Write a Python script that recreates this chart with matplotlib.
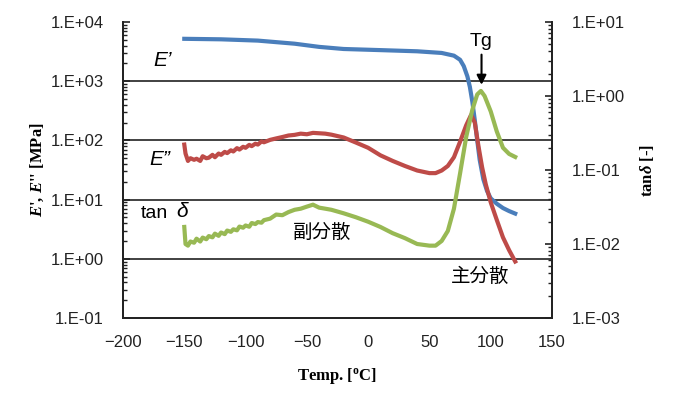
import numpy as np
import matplotlib.pyplot as plt
from matplotlib.ticker import LogLocator, FixedLocator, NullFormatter

# storage modulus E' [MPa]
temp_e1 = [-150, -120, -90, -60, -40, -20, 0, 20, 40, 60, 70, 75, 78, 81, 83, 85, 87,
           89, 91, 94, 97, 100, 105, 110, 115, 120]
e1 = [5200, 5100, 4850, 4300, 3800, 3500, 3400, 3300, 3200, 3000, 2700, 2300, 1800,
      1200, 800, 450, 220, 100, 47, 22, 14, 10.5, 8.5, 7.2, 6.4, 5.8]

# loss modulus E'' [MPa]
temp_e2 = [-150, -149, -147, -145, -142, -140, -137, -135, -132, -130, -127, -125, -122,
           -120, -117, -115, -112, -110, -107, -105, -102, -100, -97, -95, -92, -90, -87,
           -85, -80, -75, -70, -65, -60, -55, -50, -45, -40, -35, -30, -20,
           -10, 0, 10, 20, 30, 40, 50, 55, 60, 65, 70, 75, 80, 84, 87, 90, 93, 96, 100,
           105, 110, 115, 120]
e2 = [85, 60, 45, 50, 47, 49, 45, 54, 50, 51, 57, 52, 60, 57, 64, 61, 68, 65, 74, 70, 78,
      75, 84, 80, 88, 85, 96, 93, 102, 108, 114, 121, 124, 130, 127, 134, 132, 130, 125,
      112, 92, 75, 56, 45, 37, 31, 28, 28, 31, 37, 52, 95, 180, 270, 200, 80, 35, 18, 9,
      4.5, 2.3, 1.4, 0.9]

# tan delta [-]
temp_tan = [-150, -149, -147, -145, -142, -140, -137, -135, -132, -130, -127, -125, -122,
            -120, -117, -115, -112, -110, -107, -105, -102, -100, -97, -95, -92, -90, -87,
            -85, -80, -75, -70, -65, -60, -55, -50, -45, -40, -35, -30, -20,
            -10, 0, 10, 20, 30, 40, 50, 55, 60, 65, 70, 75, 80, 85, 89, 92, 95, 100, 105,
            110, 115, 120]
tan_d = [0.017, 0.010, 0.0095, 0.0108, 0.0104, 0.0118, 0.0108, 0.0122, 0.0116, 0.0128,
         0.0123, 0.0138, 0.0129, 0.0143, 0.0136, 0.0152, 0.0146, 0.0158, 0.0153, 0.0172,
         0.0166, 0.0178, 0.0171, 0.0192, 0.0186, 0.0198, 0.0194, 0.021, 0.022, 0.025,
         0.0245, 0.027, 0.029, 0.030, 0.032, 0.034, 0.031, 0.030, 0.029, 0.026, 0.023,
         0.020, 0.017, 0.014, 0.012, 0.010, 0.0095, 0.0095, 0.011, 0.015, 0.030, 0.09,
         0.28, 0.65, 1.05, 1.17, 1.0, 0.62, 0.33, 0.20, 0.165, 0.15]

left_ticks = [1e-1, 1e0, 1e1, 1e2, 1e3, 1e4]
left_labels = ['1.E-01', '1.E+00', '1.E+01', '1.E+02', '1.E+03', '1.E+04']
right_ticks = [1e-3, 1e-2, 1e-1, 1e0, 1e1]
right_labels = ['1.E-03', '1.E-02', '1.E-01', '1.E+00', '1.E+01']
x_ticks = [-200, -150, -100, -50, 0, 50, 100, 150]

plt.rcParams['font.family'] = ['Liberation Sans', 'Noto Sans CJK JP', 'DejaVu Sans']
plt.rcParams['mathtext.fontset'] = 'custom'
plt.rcParams['mathtext.it'] = 'Liberation Serif:italic:bold'
plt.rcParams['mathtext.rm'] = 'Liberation Serif:bold'

fig = plt.figure(figsize=(6.77, 3.96), dpi=100)
ax1 = fig.add_axes([123 / 677, 78 / 396, 429 / 677, 296 / 396])
ax2 = ax1.twinx()

ax1.set_xlim(-200, 150)
ax1.set_yscale('log')
ax1.set_ylim(1e-1, 1e4)
ax2.set_yscale('log')
ax2.set_ylim(1e-3, 1e1)

for y in [1e0, 1e1, 1e2, 1e3]:
    ax1.axhline(y, color='#333333', lw=1.3, zorder=1)

blue = '#4a7ebb'
red = '#be4b48'
green = '#98b954'
ax1.plot(temp_e1, e1, color=blue, lw=3, zorder=3)
ax1.plot(temp_e2, e2, color=red, lw=3, zorder=3)
ax2.plot(temp_tan, tan_d, color=green, lw=3, zorder=3)

ax1.set_xticks(x_ticks)
ax1.set_xticklabels(['\u2212200', '\u2212150', '\u2212100', '\u221250', '0', '50', '100', '150'])
ax1.tick_params(axis='x', length=0, pad=12, labelsize=12, colors='#222222')

for ax, ticks, labels in ((ax1, left_ticks, left_labels), (ax2, right_ticks, right_labels)):
    ax.yaxis.set_major_locator(FixedLocator(ticks))
    ax.set_yticklabels(labels)
    ax.yaxis.set_minor_locator(LogLocator(base=10, subs=np.arange(2, 10), numticks=30))
    ax.yaxis.set_minor_formatter(NullFormatter())
    ax.tick_params(axis='y', which='major', direction='in', length=5, labelsize=12,
                   colors='#222222', width=1.2, pad=14)
    ax.tick_params(axis='y', which='minor', direction='in', length=3, width=1,
                   color='#222222')
    ax.spines['top'].set_visible(False)
    for s in ['left', 'right', 'bottom']:
        ax.spines[s].set_linewidth(1.3)
        ax.spines[s].set_color('#222222')

ax1.set_xlabel('Temp. [$\\mathregular{^o}$C]', fontfamily='Liberation Serif',
               fontweight='bold', fontsize=12, labelpad=12)
ax1.set_ylabel("$\\it{E}$', $\\it{E}$'' [MPa]", fontfamily='Liberation Serif',
               fontweight='bold', fontsize=12, labelpad=3)
ax2.set_ylabel('tan$\\it{\\delta}$ [-]', fontfamily='Liberation Serif',
               fontweight='bold', fontsize=12, labelpad=10)

ax1.text(-168, 2200, "E\u2019", fontsize=15, style='italic', ha='center', va='center')
ax1.text(-170, 47, "E\u201d", fontsize=15, style='italic', ha='center', va='center')
ax1.text(-174, 5.8, 'tan', fontsize=14, ha='center', va='center')
ax1.text(-152, 6.2, '\u03b4', fontsize=15, style='italic', ha='center', va='center')
ax1.text(-37.5, 2.7, '副分散', fontsize=14, ha='center', va='center')
ax1.text(91.5, 0.5, '主分散', fontsize=14, ha='center', va='center', zorder=4)
ax1.annotate('Tg', xy=(92.5, 870), xytext=(92.5, 4600), fontsize=14, ha='center',
             va='center', arrowprops=dict(arrowstyle='-|>', color='black', lw=1.5,
                                          mutation_scale=14, shrinkA=1, shrinkB=0))

fig.savefig('out.png', dpi=100)
